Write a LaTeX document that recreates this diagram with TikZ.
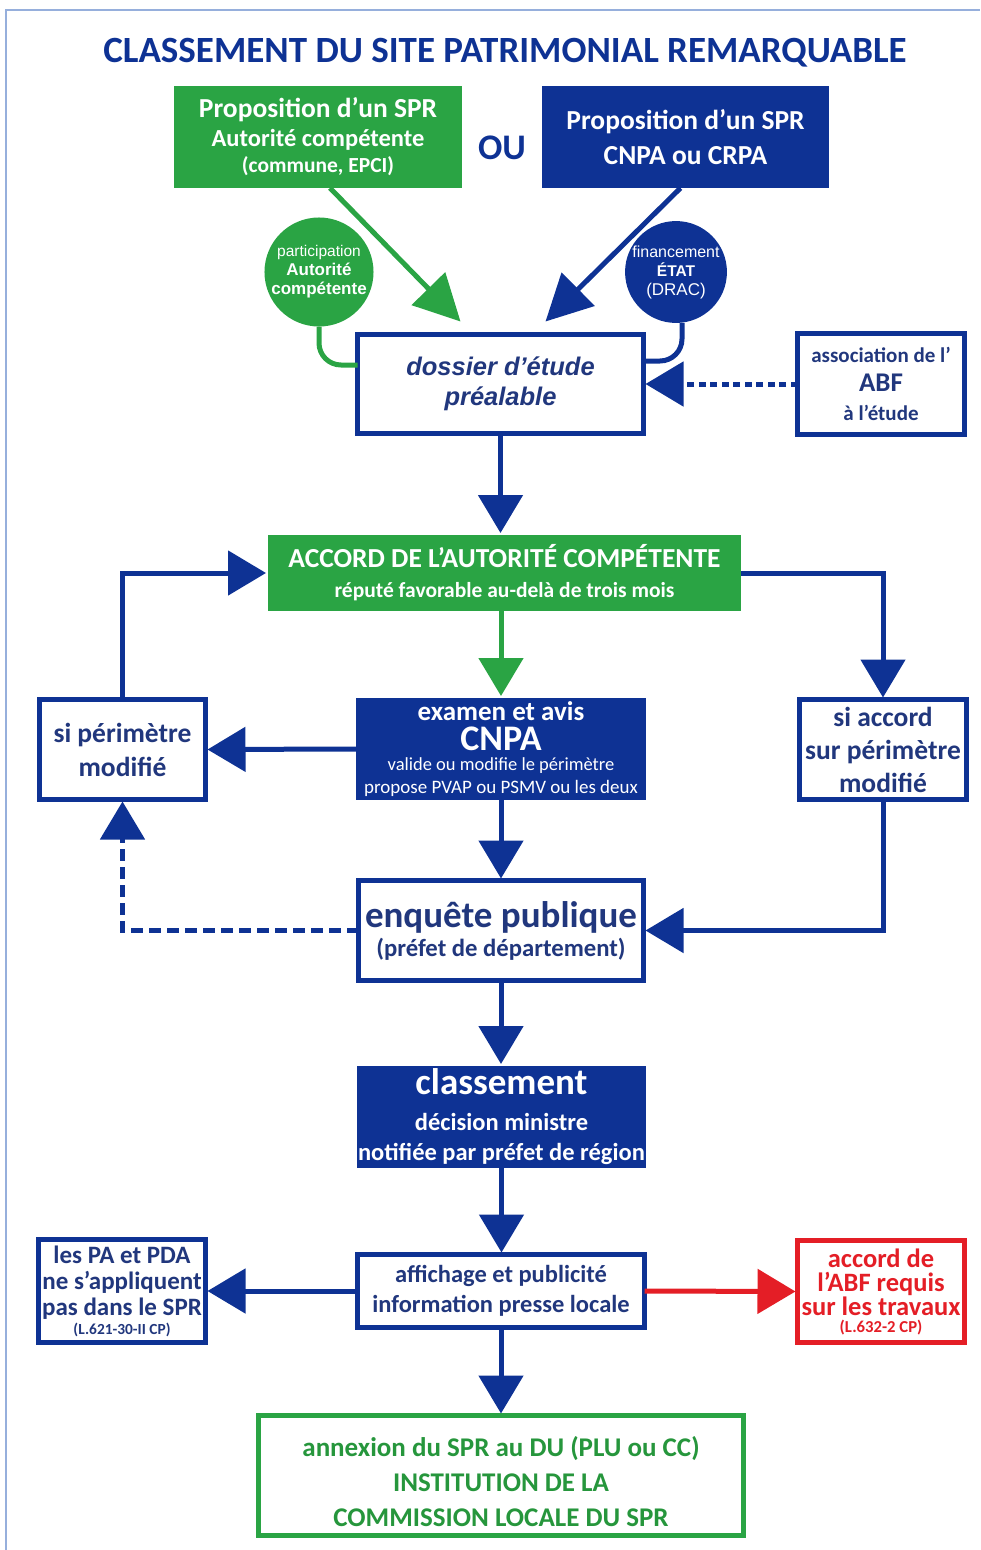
\documentclass[tikz,border=0pt]{standalone}
\usepackage{fontspec}
\setmainfont{Carlito}
\newfontfamily\arialfont{Liberation Sans}
\usetikzlibrary{arrows.meta}
\definecolor{sprblue}{RGB}{14,50,148}
\definecolor{sprtext}{RGB}{33,55,125}
\definecolor{sprgreen}{RGB}{42,164,68}
\definecolor{sprdkgreen}{RGB}{38,150,60}
\definecolor{sprred}{RGB}{228,30,38}
\definecolor{sprframe}{RGB}{150,175,220}
\newcommand{\fs}[1]{\fontsize{#1}{#1}\selectfont}
\newcommand{\fsb}[2]{\fontsize{#1}{#2}\selectfont}

\begin{document}
\begin{tikzpicture}[x=1pt,y=-1pt,inner sep=0pt,outer sep=0pt,line width=5pt,
bluebox/.style={rectangle,fill=sprblue,text=white,align=center,font=\bfseries\fsb{24.5}{30}},
greenbox/.style={rectangle,fill=sprgreen,text=white,align=center,font=\bfseries\fsb{24.5}{30}},
whitebox/.style={rectangle,draw=sprblue,fill=white,text=sprtext,align=center,font=\bfseries\fsb{24.5}{30}},
disc/.style={circle,align=center,text=white,font=\arialfont\fsb{17}{19}},
flow/.style={draw=sprblue,-{Triangle[length=38pt,width=44pt]},shorten >=2pt},
slant/.style={-{Triangle[length=46pt,width=46pt]}}]

\useasboundingbox (0,0) rectangle (980,1550);
\draw[sprframe,line width=1.2pt] (6,1550) -- (6,10) -- (980,10);

\draw (505,53) node[text=sprblue,font=\bfseries\fs{37}] (title) {CLASSEMENT DU SITE PATRIMONIAL REMARQUABLE};
\draw (318,137) node[greenbox,minimum width=288pt,minimum height=102pt,font=\bfseries\fsb{24.5}{29}] (propA) {{\fs{27.5}Proposition d’un SPR}\\Autorité compétente\\[-3pt]{\fs{21.5}(commune, EPCI)}};
\draw (502,148) node[text=sprblue,font=\bfseries\fs{36}] (ou) {OU};
\draw (685.5,137) node[bluebox,minimum width=287pt,minimum height=102pt,font=\bfseries\fsb{27.5}{35}] (propB) {Proposition d’un SPR\\CNPA ou CRPA};
\draw (319,272) node[disc,fill=sprgreen,minimum size=102pt] (gcirc) {{\fs{15.5}participation}\\{\bfseries Autorité}\\{\bfseries compétente}};
\draw (676,272) node[disc,fill=sprblue,minimum size=96pt] (bcirc) {{\fs{16}financement}\\{\bfseries\fs{15.5}ÉTAT}\\(DRAC)};
\draw (500.5,384) node[whitebox,minimum width=286pt,minimum height=99pt,font=\arialfont\bfseries\itshape\fsb{25.5}{30}] (dossier) {dossier d’étude\\préalable};
\draw (881,384) node[whitebox,minimum width=167pt,minimum height=101pt,font=\bfseries\fsb{21}{29}] (abf) {association de l’\\{\fs{27}ABF}\\à l’étude};

\draw (504.5,573) node[greenbox,minimum width=473pt,minimum height=76pt,font=\bfseries\fsb{27.5}{30}] (accord) {ACCORD DE L’AUTORITÉ COMPÉTENTE\\{\fs{21.5}réputé favorable au-delà de trois mois}};
\draw (501,749) node[bluebox,minimum width=290pt,minimum height=102pt,font=\bfseries\fsb{27}{17}] (cnpa) {examen et avis\\[5pt]{\fs{36}CNPA}\\[3pt]{\mdseries\fs{18.5}valide ou modifie le périmètre}\\[6pt]{\mdseries\fs{19}propose PVAP ou PSMV ou les deux}};
\draw (122.5,749.5) node[whitebox,minimum width=166pt,minimum height=100pt,font=\bfseries\fsb{27.5}{34}] (siperim) {si périmètre\\modifié};
\draw (883,749.5) node[whitebox,minimum width=167pt,minimum height=100pt,font=\bfseries\fsb{27.5}{33}] (siaccord) {si accord\\sur périmètre\\modifié};
\draw (501,930.5) node[whitebox,minimum width=285pt,minimum height=100pt,font=\bfseries\fsb{24.7}{29}] (enquete) {{\fs{37}enquête publique}\\(préfet de département)};
\draw (501.5,1117) node[bluebox,minimum width=289pt,minimum height=102pt] (classement) {{\fs{37}classement}\\[6pt]décision ministre\\notifiée par préfet de région};
\draw (501,1291) node[whitebox,minimum width=287pt,minimum height=73pt] (affichage) {affichage et publicité\\information presse locale};
\draw (122,1291) node[whitebox,minimum width=167pt,minimum height=103pt,font=\bfseries\fsb{25}{26}] (padab) {les PA et PDA\\ne s’appliquent\\pas dans le SPR\\[-7pt]{\fs{15.4}(L.621-30-II CP)}};
\draw (881,1291.5) node[whitebox,draw=sprred,text=sprred,minimum width=167pt,minimum height=102pt,font=\bfseries\fsb{26.5}{24}] (abfred) {accord de\\l’ABF requis\\sur les travaux\\[-7pt]{\fs{16.7}(L.632-2 CP)}};
\draw (501,1475.5) node[whitebox,draw=sprgreen,text=sprdkgreen,minimum width=485pt,minimum height=120pt,font=\bfseries\fsb{27}{35}] (annexion) {\rule{0pt}{32pt}annexion du SPR au DU (PLU ou CC)\\INSTITUTION DE LA\\COMMISSION LOCALE DU SPR};

% proposition -> dossier
\draw[sprgreen,slant] ([xshift=12pt]propA.south) -- ([xshift=-40pt,yshift=13pt]dossier.north);
\draw[sprblue,slant] ([xshift=-5pt]propB.south) -- ([xshift=45pt,yshift=13pt]dossier.north);
\draw[sprgreen,rounded corners=22pt] (gcirc.south) |- ([yshift=19pt]dossier.west);
\draw[sprblue,rounded corners=22pt] ([xshift=6pt]bcirc.south) |- ([yshift=23pt]dossier.east);
\draw[flow,dash pattern=on 7pt off 4.5pt] (abf.west) -- (dossier.east);

% main chain
\draw[flow] (dossier.south) -- (dossier.south |- accord.north);
\draw[flow,draw=sprgreen] (cnpa.north |- accord.south) -- (cnpa.north);
\draw[flow] (accord.east) -| (siaccord.north);
\draw[flow] (siperim.north) |- (accord.west);
\draw[flow] (cnpa.west) -- (siperim.east);
\draw[flow] (cnpa.south) -- (enquete.north);
\draw[flow] (siaccord.south) |- (enquete.east);
\draw[flow,dash pattern=on 12pt off 6pt] (enquete.west) -| (siperim.south);
\draw[flow] (enquete.south) -- (enquete.south |- classement.north);
\draw[flow] (classement.south) -- (classement.south |- affichage.north);
\draw[flow] (affichage.west) -- (padab.east);
\draw[flow,draw=sprred] (affichage.east) -- (abfred.west);
\draw[flow] (affichage.south) -- (annexion.north);

\end{tikzpicture}
\end{document}
